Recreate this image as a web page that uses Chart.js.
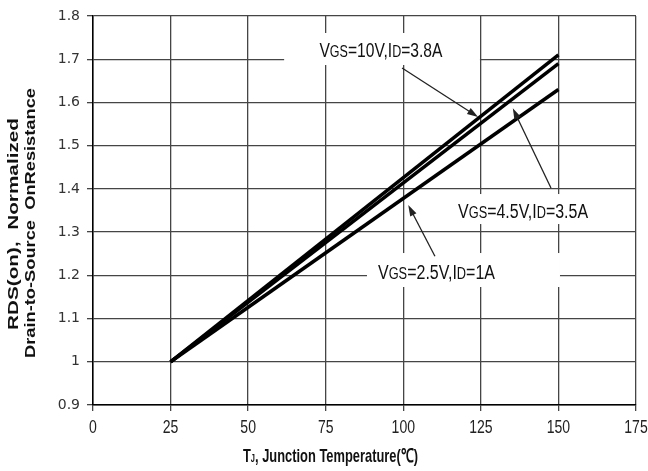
<!DOCTYPE html>
<html>
<head>
<meta charset="utf-8">
<script src="https://cdn.jsdelivr.net/npm/chart.js@4.4.1/dist/chart.umd.min.js"></script>
<style>
  html, body { margin: 0; padding: 0; background: #fff; }
  canvas { display: block; }
</style>
</head>
<body>
<canvas id="myChart" width="648" height="471"></canvas>
<script>
// junction temperature (°C) at both ends of each curve
const temps = [25, 150];
// normalized on-resistance for each bias condition
const vgs10 = [1.0, 1.71];
const vgs45 = [1.0, 1.69];
const vgs25 = [1.0, 1.63];

const xTicks = [0, 25, 50, 75, 100, 125, 150, 175];
const yTicks = ['0.9', '1', '1.1', '1.2', '1.3', '1.4', '1.5', '1.6', '1.7', '1.8'];

// callouts: text parts, text centre / baseline, white box, arrow tail -> head (data units)
const callouts = [
  {
    parts: [['V', 20], ['GS', 16], ['=10V,I', 20], ['D', 16], ['=3.8A', 20]],
    at: [92.8, 1.7213], width: 123, baseline: 56.7,
    box: [61.6, 124.7, 1.7607, 1.6866],
    arrow: [[99.6, 1.6797], [124.1, 1.5663]]
  },
  {
    parts: [['V', 20], ['GS', 16], ['=4.5V,I', 20], ['D', 16], ['=3.5A', 20]],
    at: [138.6, 1.3511], width: 130, baseline: 218.3,
    box: [116.7, 163.4, 1.3881, 1.3187],
    arrow: [[147.6, 1.402], [135.3, 1.5864]]
  },
  {
    parts: [['V', 20], ['GS', 16], ['=2.5V,I', 20], ['D', 16], ['=1A', 20]],
    at: [110.7, 1.2093], width: 117, baseline: 279.3,
    box: [88.3, 150.5, 1.2516, 1.1730],
    arrow: [[110.2, 1.244], [101.6, 1.3627]]
  }
];

const FONT = "'Liberation Sans', Arial, sans-serif";

function toPoints(ys) {
  return temps.map((t, i) => ({ x: t, y: ys[i] }));
}

// draw a run of text pieces squeezed horizontally, either to a width or by a factor
function drawRun(ctx, parts, cx, baseline, fit, bold) {
  const w = bold ? 'bold ' : '';
  let total = 0;
  parts.forEach(p => {
    ctx.font = w + p[1] + 'px ' + FONT;
    total += ctx.measureText(p[0]).width;
  });
  const sx = fit.width ? fit.width / total : fit.scale;
  ctx.save();
  ctx.translate(cx - total * sx / 2, baseline);
  ctx.scale(sx, 1);
  ctx.textAlign = 'left';
  ctx.textBaseline = 'alphabetic';
  let x = 0;
  parts.forEach(p => {
    ctx.font = w + p[1] + 'px ' + FONT;
    ctx.fillText(p[0], x, 0);
    x += ctx.measureText(p[0]).width;
  });
  ctx.restore();
}

function arrow(ctx, x1, y1, x2, y2) {
  const a = Math.atan2(y2 - y1, x2 - x1);
  const len = 11, hw = 3.5;
  ctx.beginPath();
  ctx.moveTo(x1, y1);
  ctx.lineTo(x2 - Math.cos(a) * len * 0.8, y2 - Math.sin(a) * len * 0.8);
  ctx.stroke();
  ctx.beginPath();
  ctx.moveTo(x2, y2);
  ctx.lineTo(x2 - Math.cos(a) * len + Math.sin(a) * hw, y2 - Math.sin(a) * len - Math.cos(a) * hw);
  ctx.lineTo(x2 - Math.cos(a) * len - Math.sin(a) * hw, y2 - Math.sin(a) * len + Math.cos(a) * hw);
  ctx.closePath();
  ctx.fill();
}

const annotations = {
  id: 'annotations',
  beforeDatasetsDraw(chart) {
    const { ctx, scales: { x, y } } = chart;
    ctx.save();
    ctx.fillStyle = '#fff';
    callouts.forEach(c => {
      const l = x.getPixelForValue(c.box[0]), r = x.getPixelForValue(c.box[1]);
      const t = y.getPixelForValue(c.box[2]), b = y.getPixelForValue(c.box[3]);
      ctx.fillRect(l, t, r - l, b - t);
    });
    ctx.restore();
  },
  afterDatasetsDraw(chart) {
    const { ctx, scales: { x, y } } = chart;
    ctx.save();
    ctx.strokeStyle = '#222';
    ctx.fillStyle = '#222';
    ctx.lineWidth = 1.3;
    callouts.forEach(c => {
      const [p, q] = c.arrow;
      arrow(ctx, x.getPixelForValue(p[0]), y.getPixelForValue(p[1]),
        x.getPixelForValue(q[0]), y.getPixelForValue(q[1]));
    });
    ctx.fillStyle = '#111';
    callouts.forEach(c => {
      drawRun(ctx, c.parts, x.getPixelForValue(c.at[0]), c.baseline, { width: c.width }, false);
    });

    // x tick labels in a narrow face, placed on the scale's own ticks
    ctx.fillStyle = '#222';
    x.ticks.forEach(t => {
      drawRun(ctx, [[String(t.value), 18]], x.getPixelForValue(t.value), 433, { scale: 0.78 }, false);
    });

    // x axis title
    ctx.fillStyle = '#111';
    drawRun(ctx, [['T', 19], ['J', 11], [', Junction Temperature(\u2103)', 19]], 330.5, 461.7, { width: 175 }, true);

    // y axis title, two rotated lines
    const yLines = [['RDS(on),  Normalized', 13.5, 224, 212], ['Drain-to-Source  OnResistance', 31, 223, 270]];
    ctx.font = 'bold 19px ' + FONT;
    ctx.textAlign = 'center';
    ctx.textBaseline = 'middle';
    yLines.forEach(([txt, cx, cy, len]) => {
      const w = ctx.measureText(txt).width;
      ctx.save();
      ctx.translate(cx, cy);
      ctx.rotate(-Math.PI / 2);
      ctx.scale(len / w, 0.78);
      ctx.fillText(txt, 0, 0);
      ctx.restore();
    });
    ctx.restore();
  }
};

const lineStyle = { borderColor: '#000', borderWidth: 3.5, pointRadius: 0, fill: false, tension: 0 };

const ctx = document.getElementById('myChart').getContext('2d');
const myChart = new Chart(ctx, {
  type: 'line',
  data: {
    datasets: [
      { label: 'VGS=10V, ID=3.8A', data: toPoints(vgs10), ...lineStyle },
      { label: 'VGS=4.5V, ID=3.5A', data: toPoints(vgs45), ...lineStyle },
      { label: 'VGS=2.5V, ID=1A', data: toPoints(vgs25), ...lineStyle }
    ]
  },
  options: {
    responsive: false,
    devicePixelRatio: 1,
    animation: false,
    layout: { padding: { top: 16, right: 12, left: 0, bottom: 0 } },
    plugins: { legend: { display: false }, tooltip: { enabled: false } },
    scales: {
      x: {
        type: 'linear',
        min: xTicks[0],
        max: xTicks[xTicks.length - 1],
        afterBuildTicks: s => { s.ticks = xTicks.map(v => ({ value: v })); },
        afterFit: s => { s.height = 66; s.paddingLeft = 0; s.paddingRight = 0; },
        ticks: { display: false },
        grid: { color: '#454545', lineWidth: 1.3, tickLength: 6 },
        border: { color: '#000', width: 1.5 }
      },
      y: {
        min: 0.9,
        max: 1.8,
        afterBuildTicks: s => { s.ticks = yTicks.map(v => ({ value: parseFloat(v) })); },
        afterFit: s => { s.width = 93; s.paddingTop = 0; s.paddingBottom = 0; },
        ticks: {
          font: { family: "'DejaVu Sans', sans-serif", size: 14 },
          color: '#333',
          padding: 7,
          callback: (v, i) => yTicks[i]
        },
        grid: { color: '#454545', lineWidth: 1.3, tickLength: 6 },
        border: { color: '#000', width: 1.5 }
      }
    }
  },
  plugins: [annotations]
});
</script>
</body>
</html>
